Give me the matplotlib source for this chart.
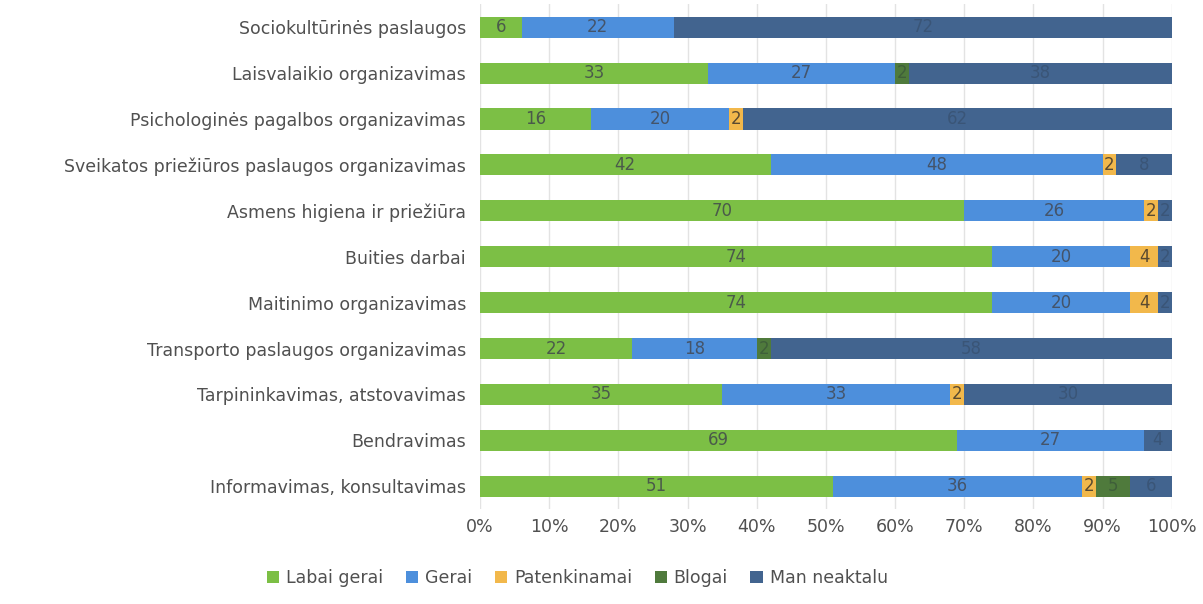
import numpy as np
import matplotlib.pyplot as plt
from matplotlib.ticker import PercentFormatter

categories = [
    "Sociokultūrinės paslaugos",
    "Laisvalaikio organizavimas",
    "Psichologinės pagalbos organizavimas",
    "Sveikatos priežiūros paslaugos organizavimas",
    "Asmens higiena ir priežiūra",
    "Buities darbai",
    "Maitinimo organizavimas",
    "Transporto paslaugos organizavimas",
    "Tarpininkavimas, atstovavimas",
    "Bendravimas",
    "Informavimas, konsultavimas",
]
labai_gerai = [6, 33, 16, 42, 70, 74, 74, 22, 35, 69, 51]
gerai = [22, 27, 20, 48, 26, 20, 20, 18, 33, 27, 36]
patenkinamai = [0, 0, 2, 2, 2, 4, 4, 0, 2, 0, 2]
blogai = [0, 2, 0, 0, 0, 0, 0, 2, 0, 0, 5]
man_neaktalu = [72, 38, 62, 8, 2, 2, 2, 58, 30, 4, 6]

series = [
    ("Labai gerai", labai_gerai, "#7cbf45", "#4a5a4a"),
    ("Gerai", gerai, "#4d8fdc", "#44546a"),
    ("Patenkinamai", patenkinamai, "#f2b84b", "#5a4a30"),
    ("Blogai", blogai, "#4f7a3c", "#3f5f3a"),
    ("Man neaktalu", man_neaktalu, "#42648f", "#3a5577"),
]

fig, ax = plt.subplots(figsize=(12.03, 6.04), dpi=100)
fig.subplots_adjust(left=0.399, right=0.974, top=0.993, bottom=0.157)

y = np.arange(len(categories))
left = np.zeros(len(categories))
for name, vals, color, tcolor in series:
    vals = np.array(vals, dtype=float)
    ax.barh(y, vals, left=left, height=0.46, color=color, label=name, zorder=2)
    for yi, (l, v) in enumerate(zip(left, vals)):
        if v > 0:
            ax.text(l + v / 2, yi, f"{int(v)}", ha="center", va="center",
                    fontsize=12, color=tcolor, zorder=3)
    left += vals

ax.set_xlim(0, 100)
ax.set_ylim(len(categories) - 0.5, -0.5)
ax.set_yticks(y)
ax.set_yticklabels(categories, fontsize=12.5, color="#505050")
ax.set_xticks(np.arange(0, 101, 10))
ax.xaxis.set_major_formatter(PercentFormatter(decimals=0))
ax.tick_params(axis="x", labelsize=12.5, colors="#505050", length=0, pad=6)
ax.tick_params(axis="y", length=0, pad=10)
ax.grid(axis="x", color="#e3e3e3", linewidth=1, zorder=0)
for s in ax.spines.values():
    s.set_visible(False)

handles, labels = ax.get_legend_handles_labels()
fig.legend(handles, labels, loc="center", bbox_to_anchor=(0.48, 0.043), ncol=5,
           frameon=False, fontsize=12.5, handlelength=0.7, handleheight=0.7,
           columnspacing=1.3, handletextpad=0.4, labelcolor="#505050")

fig.savefig("out.png")
